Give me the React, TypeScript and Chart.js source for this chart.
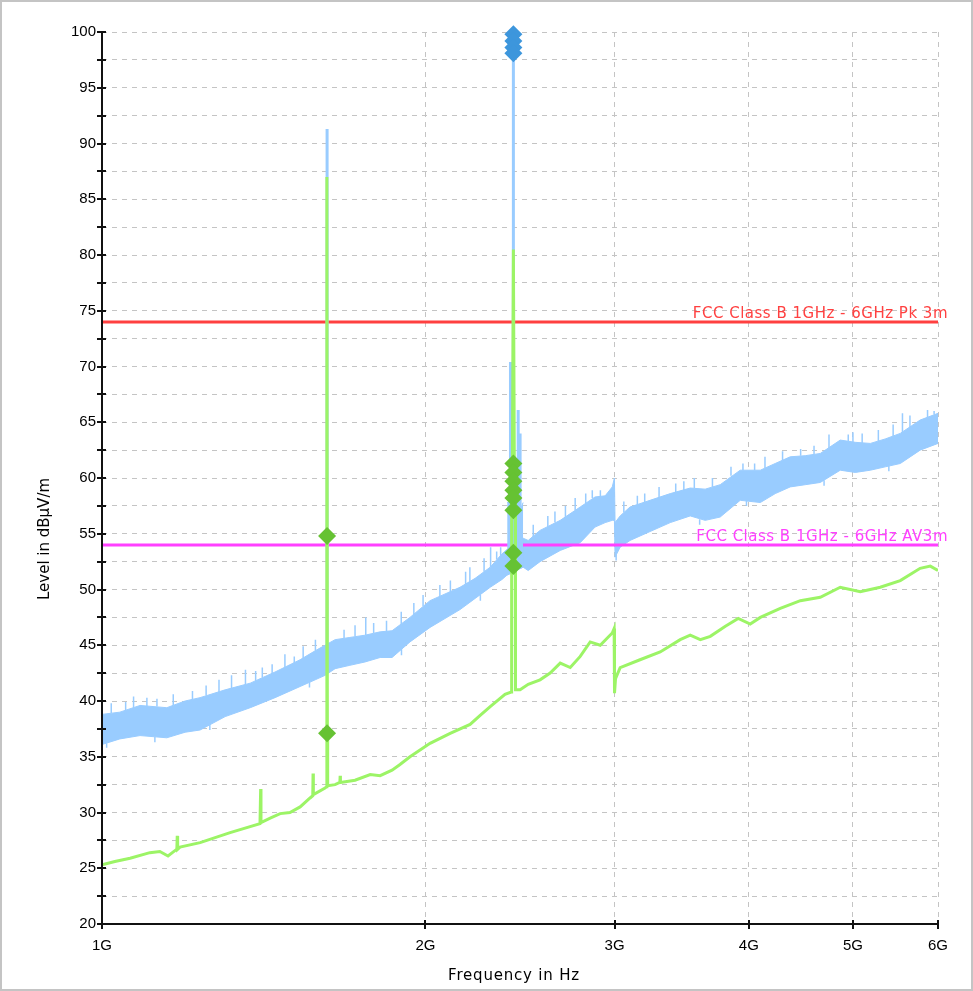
import { useEffect, useRef } from 'react';
import { Chart, registerables } from 'chart.js';

Chart.register(...registerables);

// ---- Peak trace (blue): envelope of the measured band, frequencies in GHz ----
const peakFreq = [1.000, 1.039, 1.085, 1.149, 1.195, 1.234, 1.302, 1.374, 1.449, 1.529, 1.579, 1.613, 1.648, 1.701, 1.757, 1.815, 1.862, 1.935, 2.020, 2.086, 2.154, 2.225, 2.298, 2.357, 2.383, 2.466, 2.493, 2.557, 2.670, 2.787, 2.877, 2.940, 2.985, 2.999, 3.003, 3.036, 3.101, 3.237, 3.380, 3.528, 3.643, 3.762, 3.927, 4.100, 4.233, 4.371, 4.514, 4.662, 4.866, 5.025, 5.190, 5.358, 5.534, 5.775, 6.000];
const peakMax = [38.8, 39.0, 39.6, 39.4, 40.0, 40.3, 41.0, 41.6, 42.6, 43.7, 44.5, 45.0, 45.5, 45.7, 45.9, 46.2, 46.3, 47.5, 49.0, 49.6, 50.2, 51.0, 52.0, 53.2, 53.6, 54.6, 54.4, 55.3, 56.2, 57.4, 58.3, 58.4, 59.2, 60.0, 56.0, 56.6, 57.4, 58.0, 58.6, 59.1, 59.0, 59.4, 60.7, 60.7, 61.3, 61.9, 62.0, 62.2, 63.4, 63.2, 63.1, 63.5, 64.0, 65.2, 65.8];
const peakMin = [36.1, 36.6, 36.9, 36.7, 37.2, 37.4, 38.6, 39.4, 40.3, 41.3, 41.9, 42.3, 42.9, 43.2, 43.5, 43.9, 43.9, 45.3, 46.6, 47.4, 48.2, 49.2, 50.2, 50.9, 51.3, 52.0, 51.7, 52.5, 53.5, 54.2, 55.6, 56.0, 56.2, 56.2, 52.9, 53.8, 54.4, 55.2, 56.0, 56.6, 56.2, 56.5, 58.0, 57.8, 58.6, 59.2, 59.4, 59.6, 60.7, 60.5, 60.7, 61.0, 61.3, 62.5, 63.1];

// Short peaks rising above the band: frequency, foot, tip
const jagFreq = [1.020, 1.052, 1.070, 1.101, 1.125, 1.165, 1.214, 1.250, 1.285, 1.320, 1.360, 1.390, 1.410, 1.440, 1.480, 1.510, 1.539, 1.580, 1.680, 1.720, 1.760, 1.790, 1.840, 1.899, 1.951, 1.990, 2.063, 2.110, 2.180, 2.200, 2.268, 2.300, 2.330, 2.350, 2.520, 2.600, 2.640, 2.700, 2.757, 2.820, 2.860, 2.910, 3.060, 3.150, 3.200, 3.300, 3.420, 3.480, 3.559, 3.700, 3.850, 3.950, 4.050, 4.141, 4.300, 4.470, 4.600, 4.750, 4.950, 5.000, 5.100, 5.280, 5.450, 5.560, 5.650, 5.867, 5.950];
const jagFoot = [38.9, 38.8, 39.3, 39.4, 39.5, 39.6, 40.0, 40.5, 40.6, 41.1, 41.4, 41.8, 42.1, 42.4, 43.0, 43.4, 43.8, 44.5, 45.6, 45.8, 45.9, 46.1, 46.2, 46.9, 47.7, 48.5, 49.3, 49.8, 50.5, 50.7, 51.6, 52.0, 52.7, 53.0, 54.7, 55.6, 56.0, 56.5, 57.1, 57.7, 58.2, 58.3, 56.9, 57.6, 57.8, 58.2, 58.7, 58.9, 59.1, 59.2, 60.2, 60.7, 60.7, 60.9, 61.6, 62.0, 62.1, 62.7, 63.3, 63.2, 63.1, 63.3, 63.7, 64.0, 64.5, 65.4, 65.7];
const jagTip = [39.8, 39.9, 40.4, 40.3, 40.2, 40.6, 40.9, 41.4, 41.9, 42.3, 42.8, 42.7, 43.0, 43.3, 44.2, 44.0, 44.9, 45.5, 46.4, 46.8, 47.5, 47.0, 47.2, 48.0, 48.8, 49.5, 50.4, 50.8, 51.6, 52.0, 52.8, 53.8, 53.4, 53.8, 55.8, 56.6, 57.0, 57.5, 58.2, 58.6, 58.9, 58.9, 57.9, 58.4, 58.6, 59.2, 59.5, 59.7, 60.0, 60.0, 61.0, 61.3, 61.3, 61.9, 62.4, 62.6, 62.9, 63.9, 63.9, 64.1, 64.0, 64.3, 64.8, 65.8, 65.6, 66.1, 66.0];

// Short dips below the band: frequency, foot, tip
const dipFreq = [1.010, 1.120, 1.260, 1.560, 1.900, 2.250, 3.010, 3.600, 3.980, 4.700, 5.400];
const dipFoot = [36.2, 36.8, 37.9, 41.7, 44.7, 49.5, 53.1, 56.3, 58.0, 59.8, 61.1];
const dipTip = [35.8, 36.3, 37.4, 41.2, 44.1, 49.0, 52.6, 55.8, 57.5, 59.3, 60.6];

// Raised block around the 2.4 GHz carrier
const blockFreq = [2.383, 2.395, 2.405, 2.430, 2.448, 2.466];
const blockTop = [57.8, 57.8, 57.5, 57.8, 57.0, 57.8];
const blockBottom = [51.3, 51.4, 51.5, 51.8, 51.9, 52.0];

// Emission peaks in the peak trace
const spikeFreq = [1.620, 2.400, 2.415, 2.440, 2.450];
const spikeFoot = [44.4, 57.0, 57.0, 57.0, 57.0];
const spikeTip = [91.3, 70.4, 97.7, 66.1, 64.0];

// ---- Average trace (green) ----
const avgFreq = [1.000, 1.028, 1.062, 1.108, 1.132, 1.152, 1.170, 1.174, 1.175, 1.176, 1.182, 1.234, 1.316, 1.403, 1.405, 1.406, 1.434, 1.465, 1.496, 1.529, 1.562, 1.571, 1.572, 1.573, 1.613, 1.618, 1.619, 1.6195, 1.621, 1.622, 1.648, 1.665, 1.666, 1.667, 1.720, 1.777, 1.815, 1.862, 1.894, 1.935, 2.020, 2.109, 2.201, 2.249, 2.298, 2.372, 2.404, 2.406, 2.410, 2.415, 2.420, 2.424, 2.426, 2.450, 2.493, 2.557, 2.613, 2.670, 2.728, 2.787, 2.847, 2.909, 2.985, 2.997, 2.999, 3.000, 3.006, 3.036, 3.168, 3.308, 3.453, 3.528, 3.605, 3.683, 3.804, 3.910, 4.012, 4.100, 4.279, 4.467, 4.662, 4.866, 5.079, 5.301, 5.534, 5.775, 5.902, 6.000];
const avgLevel = [25.3, 25.6, 25.9, 26.4, 26.5, 26.1, 26.6, 26.7, 27.9, 26.7, 26.9, 27.3, 28.2, 29.0, 32.1, 29.1, 29.5, 29.9, 30.0, 30.5, 31.3, 31.5, 33.5, 31.6, 32.2, 32.3, 36.5, 87.0, 37.5, 32.4, 32.5, 32.7, 33.3, 32.7, 32.9, 33.4, 33.3, 33.8, 34.3, 35.0, 36.2, 37.1, 37.9, 38.7, 39.5, 40.6, 40.8, 61.0, 62.0, 80.5, 61.0, 60.0, 41.0, 41.0, 41.5, 41.9, 42.5, 43.4, 43.0, 44.0, 45.3, 45.0, 46.1, 46.5, 46.0, 40.7, 42.0, 43.0, 43.7, 44.4, 45.5, 45.9, 45.5, 45.8, 46.7, 47.4, 46.9, 47.5, 48.3, 49.0, 49.3, 50.2, 49.8, 50.2, 50.8, 51.9, 52.1, 51.7];

// ---- Final measurement markers ----
const peakMarkFreq = [2.415, 2.415, 2.415, 2.415];
const peakMarkLevel = [99.8, 99.2, 98.6, 98.1];
const avgMarkFreq = [1.620, 1.620, 2.415, 2.415, 2.415, 2.415, 2.415, 2.415, 2.415, 2.415];
const avgMarkLevel = [54.8, 37.1, 61.3, 60.5, 59.7, 58.9, 58.2, 57.1, 53.3, 52.1];

// ---- Limits ----
const limitPk = 74;
const limitAv = 54;
const limitPkLabel = 'FCC Class B 1GHz - 6GHz Pk 3m';
const limitAvLabel = 'FCC Class B 1GHz - 6GHz AV3m';

// ---- Axes ----
const xTicks = [1, 2, 3, 4, 5, 6];
const yMin = 20;
const yMax = 100;
const xTitle = 'Frequency in Hz';
const yTitle = 'Level in dBµV/m';

const pts = (xs: number[], ys: number[]) => xs.map((x, i) => ({ x, y: ys[i] }));
const segs = (xs: number[], foot: number[], tip: number[]) =>
  xs.flatMap((x, i) => [{ x, y: foot[i] }, { x, y: tip[i] }, { x, y: null as any }]);

const C_PEAK = '#99ccff';
const C_PEAK_MARK = '#3d96dc';
const C_AVG = '#9cf466';
const C_AVG_MARK = '#66c233';
const C_PK = '#ff4040';
const C_AV = '#ff40ff';

const decor = {
  id: 'decor',
  beforeDraw(chart: any) {
    const { ctx, width, height } = chart;
    ctx.save();
    ctx.fillStyle = '#ffffff';
    ctx.fillRect(0, 0, width, height);
    ctx.restore();
  },
  afterDatasetsDraw(chart: any) {
    const { ctx, scales } = chart;
    const y = scales.y;
    ctx.save();
    ctx.font = '15px "DejaVu Sans"';
    (ctx as any).letterSpacing = '0.5px';
    ctx.textAlign = 'right';
    ctx.textBaseline = 'alphabetic';
    ctx.fillStyle = C_PK;
    ctx.fillText(limitPkLabel, 948, y.getPixelForValue(limitPk) - 4);
    ctx.fillStyle = C_AV;
    ctx.fillText(limitAvLabel, 948, y.getPixelForValue(limitAv) - 4);
    ctx.restore();
  },
  afterDraw(chart: any) {
    const { ctx, chartArea, scales, width, height } = chart;
    const { left, right, top, bottom } = chartArea;
    const x = scales.x;
    const y = scales.y;
    ctx.save();
    ctx.strokeStyle = '#111';
    ctx.lineWidth = 2;
    ctx.beginPath();
    ctx.moveTo(left, top);
    ctx.lineTo(left, bottom);
    ctx.lineTo(right, bottom);
    y.ticks.forEach((t: any) => {
      const py = Math.round(y.getPixelForValue(t.value));
      ctx.moveTo(left - 5, py);
      ctx.lineTo(left + 4, py);
    });
    x.ticks.forEach((t: any) => {
      const px = Math.round(x.getPixelForValue(t.value));
      ctx.moveTo(px, bottom - 4);
      ctx.lineTo(px, bottom + 5);
    });
    ctx.stroke();

    ctx.fillStyle = '#000';
    ctx.font = '15px "DejaVu Sans"';
    (ctx as any).letterSpacing = '0.8px';
    ctx.textAlign = 'center';
    ctx.textBaseline = 'middle';
    ctx.fillText(xTitle, 514, 976);
    (ctx as any).letterSpacing = '0px';
    ctx.translate(45, 539);
    ctx.rotate(-Math.PI / 2);
    ctx.fillText(yTitle, 0, 0);
    ctx.restore();

    ctx.save();
    ctx.strokeStyle = '#c4c4c4';
    ctx.lineWidth = 2;
    ctx.strokeRect(1, 1, width - 2, height - 2);
    ctx.restore();
  },
};

export default function App() {
  const ref = useRef<HTMLCanvasElement | null>(null);

  useEffect(() => {
    if (!ref.current) return;
    const line = (extra: any) => ({
      type: 'line',
      pointRadius: 0,
      pointHoverRadius: 0,
      tension: 0,
      fill: false,
      spanGaps: false,
      ...extra,
    });
    const chart = new Chart(ref.current, {
      type: 'line',
      data: {
        datasets: [
          line({ label: 'peakMax', data: pts(peakFreq, peakMax), borderColor: C_PEAK, borderWidth: 1, order: 50 }),
          line({ label: 'peakMin', data: pts(peakFreq, peakMin), borderColor: C_PEAK, backgroundColor: C_PEAK, borderWidth: 1, fill: '-1', order: 49 }),
          line({ label: 'jags', data: segs(jagFreq, jagFoot, jagTip), borderColor: C_PEAK, borderWidth: 1.5, order: 48 }),
          line({ label: 'dips', data: segs(dipFreq, dipFoot, dipTip), borderColor: C_PEAK, borderWidth: 1.5, order: 47 }),
          line({ label: 'Pk limit', data: [{ x: 1, y: limitPk }, { x: 6, y: limitPk }], borderColor: C_PK, borderWidth: 3, order: 40 }),
          line({ label: 'AV limit', data: [{ x: 1, y: limitAv }, { x: 6, y: limitAv }], borderColor: C_AV, borderWidth: 3, order: 40 }),
          line({ label: 'blockTop', data: pts(blockFreq, blockTop), borderColor: C_PEAK, borderWidth: 1, order: 30 }),
          line({ label: 'blockBottom', data: pts(blockFreq, blockBottom), borderColor: C_PEAK, backgroundColor: C_PEAK, borderWidth: 1, fill: '-1', order: 29 }),
          line({ label: 'spikes', data: segs(spikeFreq, spikeFoot, spikeTip), borderColor: C_PEAK, borderWidth: 3, order: 28 }),
          line({ label: 'Average', data: pts(avgFreq, avgLevel), borderColor: C_AVG, borderWidth: 3, order: 20 }),
          line({ label: 'Avg final', data: pts(avgMarkFreq, avgMarkLevel), showLine: false, pointStyle: 'rectRot', pointRadius: 9, backgroundColor: C_AVG_MARK, borderWidth: 0, clip: false, order: 10 }),
          line({ label: 'Peak final', data: pts(peakMarkFreq, peakMarkLevel), showLine: false, pointStyle: 'rectRot', pointRadius: 9, backgroundColor: C_PEAK_MARK, borderWidth: 0, clip: false, order: 10 }),
        ] as any,
      },
      options: {
        responsive: false,
        animation: false,
        devicePixelRatio: 1,
        events: [],
        layout: { padding: { left: 0, top: 32, right: 35, bottom: 0 } },
        plugins: { legend: { display: false }, tooltip: { enabled: false } },
        scales: {
          x: {
            type: 'logarithmic',
            min: 1,
            max: 6,
            afterBuildTicks: (s: any) => { s.ticks = xTicks.map((v) => ({ value: v })); },
            afterFit: (s: any) => { s.height = 67; },
            ticks: {
              autoSkip: false,
              maxRotation: 0,
              padding: 13,
              color: '#000',
              font: { family: 'Liberation Sans', size: 15 },
              callback: (v: any) => `${v}G`,
            },
            grid: { color: '#c4c4c4', lineWidth: 1, drawTicks: false },
            border: { display: false, dash: [5, 5] },
          },
          y: {
            type: 'linear',
            min: yMin,
            max: yMax,
            afterFit: (s: any) => { s.width = 102; },
            ticks: {
              stepSize: 2.5,
              autoSkip: false,
              padding: 6,
              color: '#000',
              font: { family: 'Liberation Sans', size: 15 },
              callback: (v: any) => (Number(v) % 5 === 0 ? String(v) : ''),
            },
            grid: { color: '#c4c4c4', lineWidth: 1, drawTicks: false },
            border: { display: false, dash: [5, 5] },
          },
        },
      } as any,
      plugins: [decor],
    });
    return () => chart.destroy();
  }, []);

  return (
    <div style={{ position: 'absolute', left: 0, top: 0, width: 973, height: 991 }}>
      <canvas ref={ref} width={973} height={991} />
    </div>
  );
}
